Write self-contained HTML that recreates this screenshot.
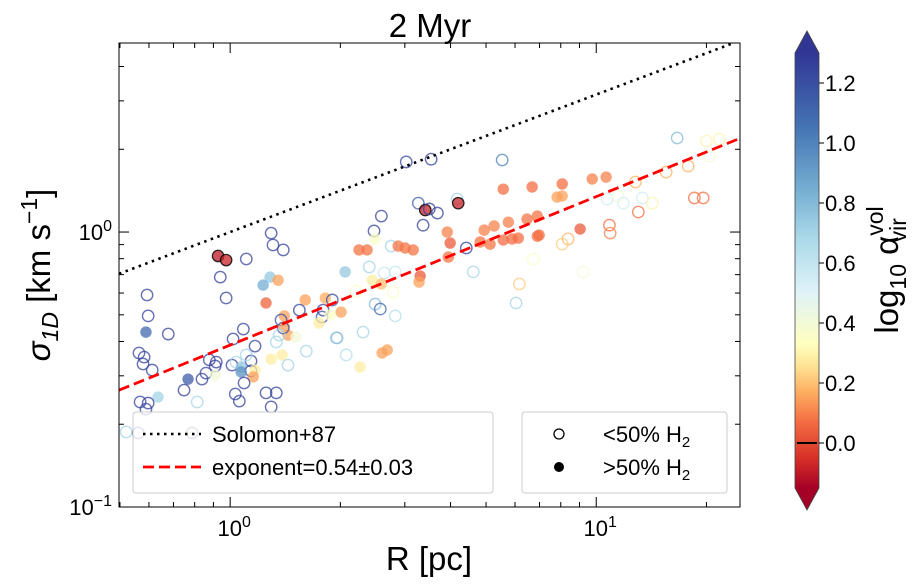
<!DOCTYPE html>
<html><head><meta charset="utf-8"><style>
body{margin:0;background:#fff;}
svg{display:block;font-family:"Liberation Sans","DejaVu Sans",sans-serif;}
#chart{position:absolute;left:0;top:0}
</style></head><body>
<svg id="chart" width="921" height="586" viewBox="0 0 921 586" xmlns="http://www.w3.org/2000/svg">
<defs>
<linearGradient id="cbg" gradientUnits="userSpaceOnUse" x1="0" y1="510" x2="0" y2="31"></linearGradient>
<clipPath id="pc"><rect x="119" y="43" width="621" height="464"/></clipPath>
</defs>
<g id="plot"></g>
<g id="axes"></g>
</svg>
<script>
const log10R=[0.112,0.117,0.145,-0.033,-0.011,0.044,-0.027,0.109,0.090,0.131,-0.227,-0.011,0.098,0.205,0.260,0.279,-0.224,0.189,0.254,0.251,0.273,0.148,0.139,0.243,-0.230,-0.169,0.036,0.008,0.068,0.148,0.158,0.145,0.126,0.134,0.180,0.290,0.208,0.112,0.142,0.158,-0.249,-0.235,-0.238,-0.213,-0.057,-0.038,-0.041,0.005,0.057,0.044,0.016,0.030,0.057,0.068,0.063,0.030,-0.066,-0.077,-0.041,-0.115,0.038,-0.126,-0.197,0.014,0.025,0.098,0.126,0.112,-0.090,-0.246,-0.224,-0.230,0.481,0.549,0.743,0.746,0.825,0.514,0.533,0.544,0.566,0.620,0.623,0.413,0.527,0.393,0.396,0.352,0.374,0.440,0.459,0.478,0.500,0.593,0.601,0.596,0.645,0.694,0.721,0.760,0.683,0.710,0.746,0.770,0.787,0.811,0.839,0.839,0.828,0.314,0.380,0.421,0.451,0.519,0.516,0.388,0.413,0.344,0.445,0.664,0.790,0.781,0.303,0.396,0.410,0.451,0.363,0.292,0.317,0.415,0.429,0.355,1.221,1.301,1.336,1.309,1.251,1.191,1.107,0.907,0.989,1.027,0.893,0.907,1.030,1.060,1.074,1.126,1.153,1.115,1.268,1.292,0.844,0.956,1.036,1.038,0.907,0.923,0.964,-0.284,-0.251,-0.104];
const log10Sigma=[-0.004,-0.047,-0.065,-0.087,-0.102,-0.098,-0.164,-0.164,-0.193,-0.175,-0.229,-0.240,-0.258,-0.247,-0.240,-0.247,-0.305,-0.284,-0.284,-0.309,-0.302,-0.305,-0.320,-0.331,-0.364,-0.371,-0.353,-0.389,-0.415,-0.345,-0.375,-0.349,-0.400,-0.375,-0.382,-0.385,-0.433,-0.462,-0.447,-0.484,-0.440,-0.455,-0.480,-0.502,-0.465,-0.473,-0.487,-0.484,-0.469,-0.447,-0.473,-0.491,-0.505,-0.502,-0.527,-0.509,-0.513,-0.535,-0.520,-0.535,-0.549,-0.575,-0.600,-0.589,-0.615,-0.585,-0.585,-0.636,-0.618,-0.618,-0.622,-0.644,0.255,0.265,0.262,0.156,0.164,0.105,0.080,0.084,0.069,0.120,0.105,0.058,0.025,0.004,-0.025,-0.065,-0.065,-0.051,-0.051,-0.058,-0.065,0.000,-0.040,-0.091,-0.058,0.007,0.022,0.036,-0.036,-0.044,-0.029,-0.025,-0.022,0.047,0.058,-0.015,-0.098,-0.145,-0.127,-0.149,-0.145,-0.160,-0.182,-0.175,-0.189,-0.215,-0.218,-0.145,-0.189,-0.258,-0.291,-0.262,-0.280,-0.305,-0.364,-0.385,-0.447,-0.440,-0.429,-0.491,0.342,0.331,0.338,0.276,0.240,0.218,0.182,0.175,0.193,0.200,0.127,0.131,0.120,0.131,0.105,0.124,0.105,0.073,0.124,0.124,-0.011,0.011,0.025,-0.004,-0.044,-0.025,-0.145,-0.727,-0.731,-0.731];
const alphaVir=[1.25,1.25,1.25,-0.1,-0.08,1.25,1.25,0.75,0.85,0.15,1.25,1.25,0.05,0.15,0.17,1.2,1.25,1.25,1.25,1.2,0.35,0.15,1.2,0.28,1.1,1.25,1.25,1.25,1.25,0.15,0.15,1.2,0.7,0.7,0.4,0.7,0.7,0.28,0.28,0.7,1.25,1.25,1.25,1.25,1.25,1.25,1.25,1.25,1.25,0.7,0.7,0.75,1.25,0.28,0.15,0.95,1.25,1.25,0.4,1.15,1.25,1.25,0.7,1.25,1.25,1.25,1.25,1.25,0.7,1.25,1.25,1.25,1.25,1.25,1.0,0.07,0.07,1.15,-0.08,1.25,1.25,0.7,-0.08,1.25,1.25,1.25,0.35,0.08,0.08,0.7,0.08,0.08,0.08,0.1,0.03,0.08,1.25,0.1,0.1,0.1,0.08,0.08,0.07,0.07,0.07,0.08,0.08,0.07,0.35,0.75,0.7,0.6,0.6,0.03,0.15,0.28,0.2,0.35,0.35,0.7,0.22,0.7,0.15,0.8,1.1,0.65,0.7,0.8,0.65,0.15,0.15,0.28,0.8,0.3,0.3,0.38,0.18,0.18,0.18,0.07,0.1,0.1,0.15,0.15,0.55,0.4,0.55,0.55,0.3,0.07,0.07,0.07,0.07,0.03,0.07,0.1,0.22,0.18,0.38,0.7,1.25,1.25];
const filledH2=[0,0,0,1,1,0,0,1,1,1,0,0,1,1,1,0,0,0,0,0,1,1,0,1,1,0,0,0,0,1,1,0,0,0,1,0,0,1,1,0,0,0,0,0,0,0,0,0,0,0,0,1,0,1,1,1,0,0,1,1,0,0,1,0,0,0,0,0,0,0,0,0,0,0,0,1,1,0,1,0,0,0,1,0,0,0,1,1,1,0,1,1,1,1,1,1,0,1,1,1,1,1,1,1,1,1,1,1,0,1,0,0,0,1,1,1,1,0,0,0,0,0,1,0,0,0,0,0,0,1,1,1,0,0,0,0,0,0,0,1,1,1,1,1,0,0,0,0,0,0,0,0,1,1,0,0,0,0,0,0,0,0];
const xTickExps=["0","1"];
const yTickExps=["−1","0"];
const cbarTicks=[0.0,0.2,0.4,0.6,0.8,1.0,1.2];
const solomonCoef=1.0, solomonSlope=0.5;
const fitCoef=0.388, fitSlope=0.54;

const NS="http://www.w3.org/2000/svg";
const X0=119,X1=740,Y0=43,Y1=507;
const lxmin=Math.log10(0.497),lxmax=Math.log10(24.7),lymin=-1,lymax=Math.log10(4.87);
function xs(lr){return X0+(lr-lxmin)/(lxmax-lxmin)*(X1-X0);}
function ys(ls){return Y1-(ls-lymin)/(lymax-lymin)*(Y1-Y0);}
const CBT=53,CBB=488,CMIN=-0.15,CMAX=1.30;
function cy(v){return CBB-(v-CMIN)/(CMAX-CMIN)*(CBB-CBT);}
const cmVals=[-0.15,-0.05,0.07,0.17,0.25,0.33,0.5,0.68,0.85,1.05,1.3];
const cmHex=["#a50026","#d73027","#f46d43","#fdae61","#fee090","#ffffbf","#e0f3f8","#abd9e9","#74add1","#4575b4","#313695"];
const stops=cmHex.map(h=>[parseInt(h.slice(1,3),16),parseInt(h.slice(3,5),16),parseInt(h.slice(5,7),16)]);
function cmap(v){v=Math.max(CMIN,Math.min(CMAX,v));let i=0;while(i<9&&v>cmVals[i+1])i++;const f=(v-cmVals[i])/(cmVals[i+1]-cmVals[i]);const a=stops[i],b=stops[i+1];return `rgb(${Math.round(a[0]+(b[0]-a[0])*f)},${Math.round(a[1]+(b[1]-a[1])*f)},${Math.round(a[2]+(b[2]-a[2])*f)})`;}
function el(tag,attrs,parent){const e=document.createElementNS(NS,tag);for(const k in attrs)e.setAttribute(k,attrs[k]);parent.appendChild(e);return e;}

const grad=document.getElementById('cbg');
cmVals.forEach((v,i)=>{const off=(510-cy(v))/(510-31);el('stop',{offset:off,'stop-color':cmHex[i]},grad);});

const plot=document.getElementById('plot'), axes=document.getElementById('axes');
plot.setAttribute('clip-path','url(#pc)');
function lineD(c,s){const a=lxmin,b=lxmax;return `M${xs(a)},${ys(Math.log10(c)+s*a)} L${xs(b)},${ys(Math.log10(c)+s*b)}`;}
for(let i=0;i<log10R.length;i++){
  const col=cmap(alphaVir[i]);
  const c=el('circle',{cx:xs(log10R[i]),cy:ys(log10Sigma[i]),r:5.7},plot);
  
  
  if(filledH2[i]){c.setAttribute('fill',col);c.setAttribute('fill-opacity','0.75');
    if(alphaVir[i]<0){c.setAttribute('stroke','#000');c.setAttribute('stroke-width','1.3');c.setAttribute('stroke-opacity','0.8');}}
  else{c.setAttribute('fill','none');c.setAttribute('stroke',col);c.setAttribute('stroke-width','1.4');c.setAttribute('stroke-opacity','0.75');}
}
const sl=el('path',{d:lineD(solomonCoef,solomonSlope),stroke:'#000','stroke-width':2.6,'stroke-dasharray':'2.5,4.5',fill:'none'},plot);


const fl=el('path',{d:lineD(fitCoef,fitSlope),stroke:'#f00','stroke-width':2.8,'stroke-dasharray':'11,5','fill':'none'},plot);



const fr=el('rect',{x:X0,y:Y0,width:X1-X0,height:Y1-Y0,fill:'none',stroke:'#000','stroke-width':1},axes);


for(let d=-1;d<=1;d++){for(let m=1;m<10;m++){const v=d+Math.log10(m);if(v<lxmin||v>lxmax)continue;const x=xs(v),L=m===1?10:5;
  el('line',{x1:x,x2:x,y1:Y1,y2:Y1-L,stroke:'#000','stroke-width':1},axes);el('line',{x1:x,x2:x,y1:Y0,y2:Y0+L,stroke:'#000','stroke-width':1},axes);}}
for(let d=-1;d<=0;d++){for(let m=1;m<10;m++){const v=d+Math.log10(m);if(v<lymin||v>lymax)continue;const y=ys(v),L=m===1?10:5;
  el('line',{x1:X0,x2:X0+L,y1:y,y2:y,stroke:'#000','stroke-width':1},axes);el('line',{x1:X1,x2:X1-L,y1:y,y2:y,stroke:'#000','stroke-width':1},axes);}}
function powLabel(e,exp){e.textContent='10';const s=document.createElementNS(NS,'tspan');s.setAttribute('font-size','16');s.setAttribute('dy','-9');s.textContent=exp;e.appendChild(s);}
xTickExps.forEach((t,i)=>{const e=el('text',{x:xs(i)+4,y:536,'text-anchor':'middle','font-size':22},axes);powLabel(e,t);
  
  });
yTickExps.forEach((t,i)=>{const e=el('text',{x:112,y:ys(i-1)+8,'text-anchor':'end','font-size':22},axes);powLabel(e,t);
  
  });

const cb=el('path',{d:`M795,${CBT} L807,31 L819,${CBT} L819,${CBB} L807,510 L795,${CBB} Z`,fill:'url(#cbg)',stroke:'#444','stroke-width':0.8},axes);


cbarTicks.forEach(v=>{const y=cy(v);el('line',{x1:819,x2:824,y1:y,y2:y,stroke:'#000','stroke-width':1},axes);
  const t=el('text',{x:825,y:y+8,'font-size':22},axes);t.textContent=v.toFixed(1);
  
  });
el('line',{x1:797,x2:817,y1:cy(0),y2:cy(0),stroke:'#000','stroke-width':2},axes);
</script>
<svg style="position:absolute;left:0;top:0" width="921" height="586" xmlns="http://www.w3.org/2000/svg" font-family="Liberation Sans, DejaVu Sans, sans-serif">
<text x="430" y="37" text-anchor="middle" font-size="33">2 Myr</text>
<text x="429" y="570" text-anchor="middle" font-size="33">R [pc]</text>
<text transform="translate(50,275) rotate(-90)" text-anchor="middle" font-size="33"><tspan font-style="italic">σ</tspan><tspan font-size="23" dy="8" font-style="italic">1D</tspan><tspan dy="-8"> [km s</tspan><tspan font-size="23" dy="-13">−1</tspan><tspan dy="13">]</tspan></text>
<text transform="translate(898,270) rotate(-90)" text-anchor="middle" font-size="33">log<tspan font-size="23" dy="8">10</tspan><tspan dy="-8"> α</tspan><tspan font-size="23" dy="-15">vol</tspan><tspan font-size="23" dx="-36" dy="23">vir</tspan></text>
<g>
<rect x="133" y="412" width="360" height="81" rx="3" fill="#fff" fill-opacity="0.8" stroke="#ccc"/>
<line x1="143" x2="201" y1="434" y2="434" stroke="#000" stroke-width="2.6" stroke-dasharray="2.5,4.5"/>
<text x="212" y="442" font-size="22">Solomon+87</text>
<line x1="143" x2="201" y1="467" y2="467" stroke="#f00" stroke-width="2.8" stroke-dasharray="11,5"/>
<text x="212" y="475" font-size="22">exponent=0.54±0.03</text>
</g>
<g>
<rect x="522" y="412" width="205" height="81" rx="3" fill="#fff" fill-opacity="0.8" stroke="#ccc"/>
<circle cx="559" cy="434" r="5" fill="none" stroke="#000" stroke-width="1.3"/>
<text x="603" y="442" font-size="22">&lt;50% H<tspan font-size="15" dy="5">2</tspan></text>
<circle cx="559" cy="467" r="5" fill="#000"/>
<text x="603" y="475" font-size="22">&gt;50% H<tspan font-size="15" dy="5">2</tspan></text>
</g>
</svg>
</body></html>
